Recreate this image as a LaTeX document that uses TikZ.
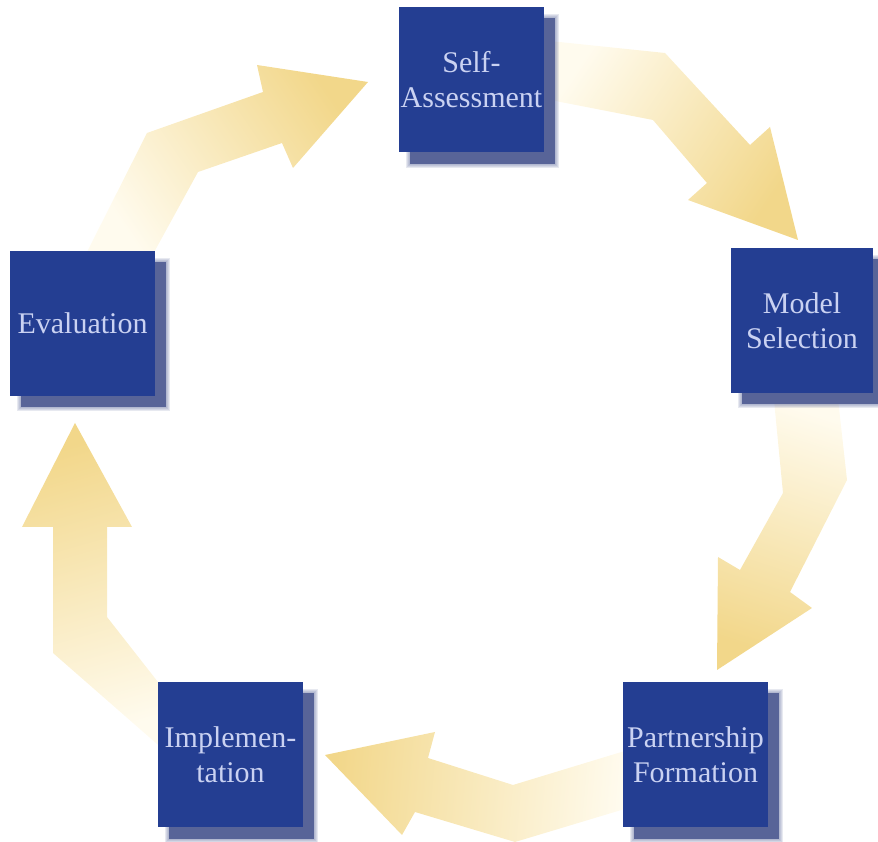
\documentclass[tikz,border=0pt]{standalone}
\usepackage{fontspec}
\setmainfont{Liberation Serif}
\pgfdeclarelayer{arrows}
\pgfdeclarelayer{shadows}
\pgfsetlayers{arrows,shadows,main}

\definecolor{boxblue}{RGB}{36,62,146}
\definecolor{boxtext}{RGB}{202,210,242}
\definecolor{shadowcol}{RGB}{88,100,152}
\definecolor{arrowhead}{RGB}{242,215,138}
\definecolor{arrowmid}{RGB}{246,226,170}
\definecolor{arrowtail}{RGB}{255,251,238}

\tikzset{
  stage/.style={rectangle, fill=boxblue, text=boxtext, inner sep=0pt,
    minimum width=145pt, minimum height=145pt, align=center,
    font=\fontsize{30}{35}\selectfont},
  flow/.style={top color=arrowhead, middle color=arrowmid, bottom color=arrowtail}
}

\begin{document}
\begin{tikzpicture}[x=1pt, y=1pt]
  \useasboundingbox (0,0) rectangle (878,842);
  \clip (0,0) rectangle (878,842);

  % process stages
  \node[stage] (sa) at (471.5,762) {Self-\\Assessment};
  \node[stage, minimum width=142pt] (ms) at (802,521.5) {Model\\Selection};
  \node[stage] (pf) at (695.5,87) {Partnership\\Formation};
  \node[stage] (im) at (230.5,87) {Implemen-\\tation};
  \node[stage] (ev) at (82.5,518.5) {Evaluation};

  % soft drop shadows behind the stages
  \begin{pgfonlayer}{shadows}
    \foreach \n in {sa,ms,pf,im,ev}{
      \foreach \r in {4,3,2,1}{
        \fill[shadowcol, opacity=0.14]
          ([shift={(11-\r,-11-\r)}]\n.south west) rectangle ([shift={(11+\r,-11+\r)}]\n.north east);
      }
      \fill[shadowcol] ([shift={(11,-11)}]\n.south west) rectangle ([shift={(11,-11)}]\n.north east);
    }
  \end{pgfonlayer}

  % bent block arrows, fading in from the tail
  \begin{pgfonlayer}{arrows}
    % Evaluation -> Self-Assessment
    \shade[flow, shading angle=-56]
      (85,586) -- (147,709) -- (263,750) -- (257,777) -- (368,760)
      -- (293,674) -- (282,699) -- (198,670) -- (152,586) -- cycle;
    % Self-Assessment -> Model Selection
    \shade[flow, shading angle=-124]
      (540,802) -- (665,789) -- (750,697) -- (770,715) -- (798,602)
      -- (688,642) -- (707,659) -- (653,722) -- (540,744) -- cycle;
    % Model Selection -> Partnership Formation
    \shade[flow, shading angle=162]
      (773,452) -- (837,452) -- (847,362) -- (790,250) -- (812,234)
      -- (717,172) -- (718,285) -- (740,272) -- (783,349) -- cycle;
    % Partnership Formation -> Implementation
    \shade[flow, shading angle=85]
      (628,92) -- (513,57) -- (428,84) -- (435,110) -- (325,87)
      -- (402,7) -- (415,30) -- (515,0) -- (628,34) -- cycle;
    % Implementation -> Evaluation
    \shade[flow, shading angle=16]
      (165,91) -- (53,189) -- (53,315) -- (22,315) -- (75,419)
      -- (132,315) -- (107,315) -- (107,225) -- (165,151) -- cycle;
  \end{pgfonlayer}
\end{tikzpicture}
\end{document}
